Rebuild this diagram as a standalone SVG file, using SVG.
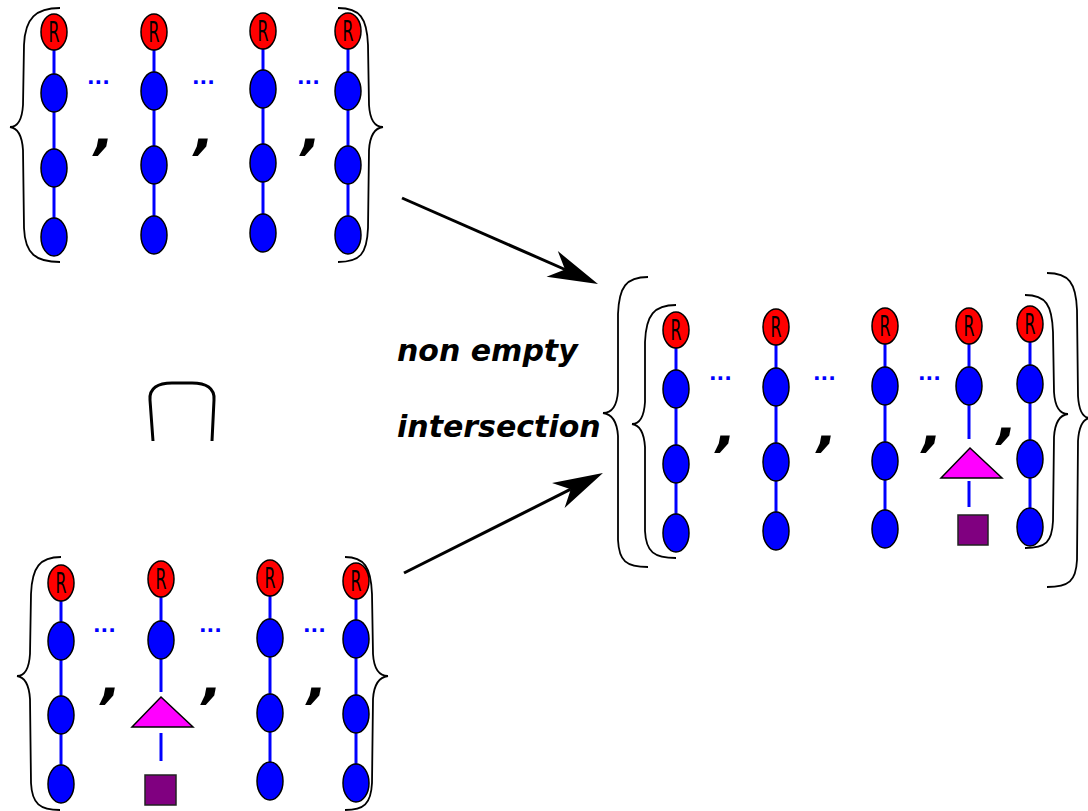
<svg xmlns="http://www.w3.org/2000/svg" width="1088" height="811" viewBox="0 0 1088 811">
<style>
.bl{fill:#0000ff;stroke:#000;stroke-width:1.5}
.rd{fill:#ff0000;stroke:#000;stroke-width:1.5}
.tri{fill:#ff00ff;stroke:#000;stroke-width:1.5}
.sq{fill:#800080;stroke:#222;stroke-width:1.5}
.edge{stroke:#0000ff;stroke-width:3;fill:none}
.arr{stroke:#000;stroke-width:3;fill:none}
.brace{stroke:#000;stroke-width:1.8;fill:none}
.rt{font-family:"DejaVu Sans",sans-serif;font-size:28px;fill:#000;text-anchor:middle}
.dots{font-family:"DejaVu Sans",sans-serif;font-weight:bold;font-size:20px;fill:#0000ff}
.cm{font-family:"DejaVu Sans",sans-serif;font-weight:bold;font-style:oblique;font-size:54px;fill:#000}
.lbl{font-family:"DejaVu Sans",sans-serif;font-weight:bold;font-style:oblique;font-size:30px;fill:#000}
</style>
<defs>
<marker id="ah" markerUnits="userSpaceOnUse" markerWidth="60" markerHeight="40" viewBox="-20 -20 60 40" refX="0" refY="0" orient="auto">
<path d="M36,0 L-14,-14 L0,0 L-14,14 Z" fill="#000"/>
</marker>
</defs>

<g id="connectors">
<line class="edge" x1="54" y1="32" x2="54" y2="237"/>
<line class="edge" x1="154" y1="32" x2="154" y2="235"/>
<line class="edge" x1="263" y1="31" x2="263" y2="233"/>
<line class="edge" x1="348" y1="31" x2="348" y2="235"/>
<line class="edge" x1="61" y1="583" x2="61" y2="784"/>
<line class="edge" x1="161" y1="579" x2="161" y2="692"/>
<line class="edge" x1="161" y1="733" x2="161" y2="761"/>
<line class="edge" x1="270" y1="578" x2="270" y2="781"/>
<line class="edge" x1="356" y1="581" x2="356" y2="783"/>
<line class="edge" x1="676" y1="330" x2="676" y2="533"/>
<line class="edge" x1="776" y1="327" x2="776" y2="531"/>
<line class="edge" x1="885" y1="326" x2="885" y2="529"/>
<line class="edge" x1="969" y1="326" x2="969" y2="439"/>
<line class="edge" x1="969" y1="481" x2="969" y2="507"/>
<line class="edge" x1="1030" y1="324" x2="1030" y2="527"/>
<line class="arr" x1="402" y1="198" x2="565" y2="269.5" marker-end="url(#ah)"/>
<line class="arr" x1="404" y1="573" x2="570.8" y2="489.2" marker-end="url(#ah)"/>
</g>

<g id="t1r"><ellipse class="rd" cx="54" cy="32" rx="13" ry="18"/><text class="rt" x="54" y="42" textLength="11" lengthAdjust="spacingAndGlyphs">R</text></g>
<g id="t1a"><ellipse class="bl" cx="54" cy="93" rx="13" ry="19"/></g>
<g id="t1b"><ellipse class="bl" cx="54" cy="168" rx="13" ry="19"/></g>
<g id="t1c"><ellipse class="bl" cx="54" cy="237" rx="13" ry="19"/></g>
<g id="t2r"><ellipse class="rd" cx="154" cy="32" rx="13" ry="18"/><text class="rt" x="154" y="42" textLength="11" lengthAdjust="spacingAndGlyphs">R</text></g>
<g id="t2a"><ellipse class="bl" cx="154" cy="91" rx="13" ry="19"/></g>
<g id="t2b"><ellipse class="bl" cx="154" cy="165" rx="13" ry="19"/></g>
<g id="t2c"><ellipse class="bl" cx="154" cy="235" rx="13" ry="19"/></g>
<g id="t3r"><ellipse class="rd" cx="263" cy="31" rx="13" ry="18"/><text class="rt" x="263" y="41" textLength="11" lengthAdjust="spacingAndGlyphs">R</text></g>
<g id="t3a"><ellipse class="bl" cx="263" cy="89" rx="13" ry="19"/></g>
<g id="t3b"><ellipse class="bl" cx="263" cy="163" rx="13" ry="19"/></g>
<g id="t3c"><ellipse class="bl" cx="263" cy="233" rx="13" ry="19"/></g>
<g id="t4r"><ellipse class="rd" cx="348" cy="31" rx="13" ry="18"/><text class="rt" x="348" y="41" textLength="11" lengthAdjust="spacingAndGlyphs">R</text></g>
<g id="t4a"><ellipse class="bl" cx="348" cy="91" rx="13" ry="19"/></g>
<g id="t4b"><ellipse class="bl" cx="348" cy="165" rx="13" ry="19"/></g>
<g id="t4c"><ellipse class="bl" cx="348" cy="235" rx="13" ry="19"/></g>

<g id="b1r"><ellipse class="rd" cx="61" cy="583" rx="13" ry="18"/><text class="rt" x="61" y="593" textLength="11" lengthAdjust="spacingAndGlyphs">R</text></g>
<g id="b1a"><ellipse class="bl" cx="61" cy="641" rx="13" ry="19"/></g>
<g id="b1b"><ellipse class="bl" cx="61" cy="715" rx="13" ry="19"/></g>
<g id="b1c"><ellipse class="bl" cx="61" cy="784" rx="13" ry="19"/></g>
<g id="b2r"><ellipse class="rd" cx="161" cy="579" rx="13" ry="18"/><text class="rt" x="161" y="589" textLength="11" lengthAdjust="spacingAndGlyphs">R</text></g>
<g id="b2a"><ellipse class="bl" cx="161" cy="640" rx="13" ry="19"/></g>
<g id="b2t"><polygon class="tri" points="161,697 193,727 132,727"/></g>
<g id="b2s"><rect class="sq" x="145" y="775" width="31" height="30"/></g>
<g id="b3r"><ellipse class="rd" cx="270" cy="578" rx="13" ry="18"/><text class="rt" x="270" y="588" textLength="11" lengthAdjust="spacingAndGlyphs">R</text></g>
<g id="b3a"><ellipse class="bl" cx="270" cy="638" rx="13" ry="19"/></g>
<g id="b3b"><ellipse class="bl" cx="270" cy="713" rx="13" ry="19"/></g>
<g id="b3c"><ellipse class="bl" cx="270" cy="781" rx="13" ry="19"/></g>
<g id="b4r"><ellipse class="rd" cx="356" cy="581" rx="13" ry="18"/><text class="rt" x="356" y="591" textLength="11" lengthAdjust="spacingAndGlyphs">R</text></g>
<g id="b4a"><ellipse class="bl" cx="356" cy="639" rx="13" ry="19"/></g>
<g id="b4b"><ellipse class="bl" cx="356" cy="714" rx="13" ry="19"/></g>
<g id="b4c"><ellipse class="bl" cx="356" cy="783" rx="13" ry="19"/></g>

<g id="r1r"><ellipse class="rd" cx="676" cy="330" rx="13" ry="18"/><text class="rt" x="676" y="340" textLength="11" lengthAdjust="spacingAndGlyphs">R</text></g>
<g id="r1a"><ellipse class="bl" cx="676" cy="389" rx="13" ry="19"/></g>
<g id="r1b"><ellipse class="bl" cx="676" cy="464" rx="13" ry="19"/></g>
<g id="r1c"><ellipse class="bl" cx="676" cy="533" rx="13" ry="19"/></g>
<g id="r2r"><ellipse class="rd" cx="776" cy="327" rx="13" ry="18"/><text class="rt" x="776" y="337" textLength="11" lengthAdjust="spacingAndGlyphs">R</text></g>
<g id="r2a"><ellipse class="bl" cx="776" cy="387" rx="13" ry="19"/></g>
<g id="r2b"><ellipse class="bl" cx="776" cy="462" rx="13" ry="19"/></g>
<g id="r2c"><ellipse class="bl" cx="776" cy="531" rx="13" ry="19"/></g>
<g id="r3r"><ellipse class="rd" cx="885" cy="326" rx="13" ry="18"/><text class="rt" x="885" y="336" textLength="11" lengthAdjust="spacingAndGlyphs">R</text></g>
<g id="r3a"><ellipse class="bl" cx="885" cy="386" rx="13" ry="19"/></g>
<g id="r3b"><ellipse class="bl" cx="885" cy="461" rx="13" ry="19"/></g>
<g id="r3c"><ellipse class="bl" cx="885" cy="529" rx="13" ry="19"/></g>
<g id="r4r"><ellipse class="rd" cx="969" cy="326" rx="13" ry="18"/><text class="rt" x="969" y="336" textLength="11" lengthAdjust="spacingAndGlyphs">R</text></g>
<g id="r4a"><ellipse class="bl" cx="969" cy="386" rx="13" ry="19"/></g>
<g id="r4t"><polygon class="tri" points="970,448 1002,478 941,478"/></g>
<g id="r4s"><rect class="sq" x="958" y="515" width="30" height="30"/></g>
<g id="r5r"><ellipse class="rd" cx="1030" cy="324" rx="13" ry="18"/><text class="rt" x="1030" y="334" textLength="11" lengthAdjust="spacingAndGlyphs">R</text></g>
<g id="r5a"><ellipse class="bl" cx="1030" cy="384" rx="13" ry="19"/></g>
<g id="r5b"><ellipse class="bl" cx="1030" cy="459" rx="13" ry="19"/></g>
<g id="r5c"><ellipse class="bl" cx="1030" cy="527" rx="13" ry="19"/></g>

<g id="braces">
<path class="brace" d="M60,8 C36,8 25,18 24,45 L23,105 C22,121 17,127 10,127 C17,128 22,134 23,150 L24,228 C25,254 36,262 60,262"/>
<path class="brace" d="M338,8 C360,8 367,18 368,45 L369,105 C370,121 375,127 383,127 C375,128 370,134 369,150 L368,228 C367,254 360,262 338,262"/>
<path class="brace" d="M61,557 C40,557 32,567 31,594 L30,654 C29,670 24,676 17,676 C24,677 29,683 30,699 L31,783 C32,804 40,810 60,810"/>
<path class="brace" d="M345,557 C364,557 371,567 372,594 L373,654 C374,670 380,676 388,676 C380,677 374,683 373,699 L372,783 C371,804 364,810 345,810"/>
<path class="brace" d="M676,305 C654,305 646,315 645,342 L645,402 C644,418 639,424 632,424 C639,425 644,431 645,447 L645,531 C646,552 654,558 676,558"/>
<path class="brace" d="M648,277 C626,277 619,287 618,314 L618,391 C617,407 611,413 603,413 C611,414 617,420 618,436 L618,540 C619,561 626,567 648,567"/>
<path class="brace" d="M1025,295 C1046,295 1052,305 1053,332 L1054,392 C1055,408 1060,414 1068,414 C1060,415 1055,421 1054,437 L1053,521 C1052,542 1046,548 1025,548"/>
<path class="brace" d="M1047,273 C1069,273 1076,283 1077,310 L1078,396 C1079,412 1083,418 1090,418 C1083,419 1079,425 1078,441 L1077,560 C1076,581 1069,587 1047,587"/>
</g>

<path id="cap" d="M153,441 L150,400 C149,388 158,383 172,383 L192,383 C206,383 215,388 214,400 L212,441" fill="none" stroke="#000" stroke-width="3"/>

<text class="dots" x="87" y="84">...</text>
<text class="dots" x="192" y="84">...</text>
<text class="dots" x="297" y="84">...</text>
<text class="dots" x="93" y="632">...</text>
<text class="dots" x="199" y="632">...</text>
<text class="dots" x="303" y="632">...</text>
<text class="dots" x="709" y="380">...</text>
<text class="dots" x="813" y="380">...</text>
<text class="dots" x="918" y="380">...</text>

<text class="cm" x="94" y="148">,</text>
<text class="cm" x="194" y="148">,</text>
<text class="cm" x="301" y="148">,</text>
<text class="cm" x="101" y="697">,</text>
<text class="cm" x="202" y="697">,</text>
<text class="cm" x="307" y="697">,</text>
<text class="cm" x="716" y="445">,</text>
<text class="cm" x="817" y="445">,</text>
<text class="cm" x="922" y="445">,</text>
<text class="cm" x="997" y="437">,</text>

<text class="lbl" x="397" y="361">non empty</text>
<text class="lbl" x="397" y="437">intersection</text>
</svg>
